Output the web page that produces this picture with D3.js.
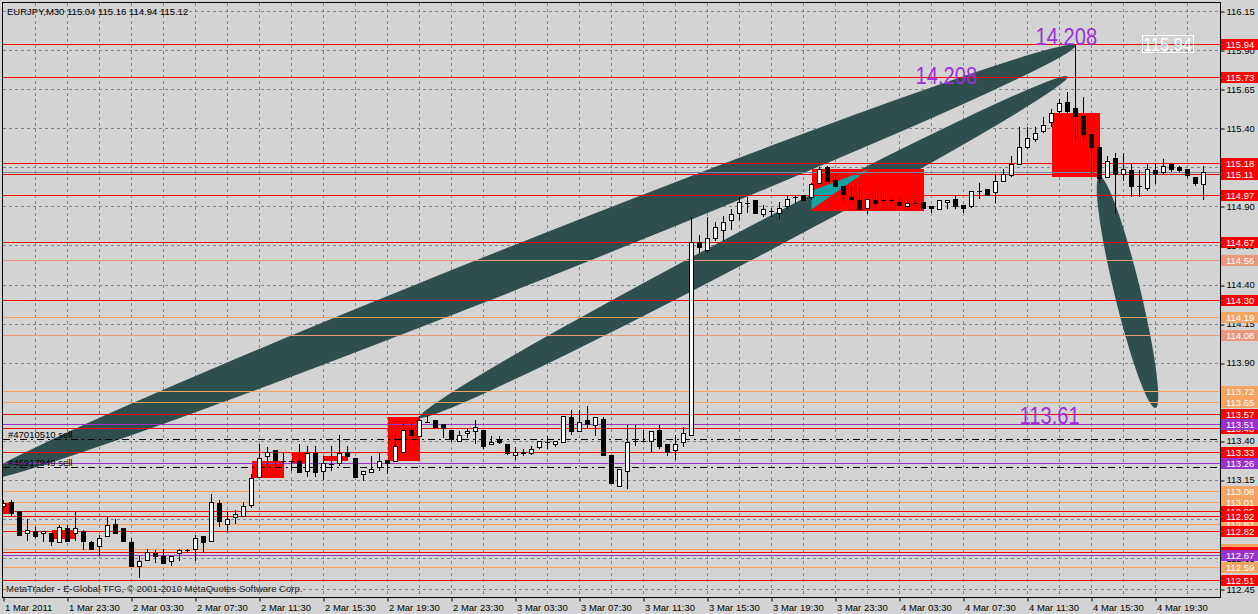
<!DOCTYPE html>
<html><head><meta charset="utf-8">
<script src="https://cdn.jsdelivr.net/npm/d3@7"></script>
<style>
html,body{margin:0;padding:0;background:#d3d3d3;overflow:hidden;}
svg{display:block;}
text{font-family:"Liberation Sans",Arial,sans-serif;}
</style></head><body>
<svg id="chart" width="1258" height="614"></svg>
<script>
// ---------------- DATA ----------------
const titleText = "EURJPY,M30  115.04 115.16 114.94 115.12";
const copyrightText = "MetaTrader - E-Global TFG, \u00A9 2001-2010 MetaQuotes Software Corp.";

const opens = [112.98,113.01,112.95,112.81,112.82,112.81,112.81,112.75,112.84,112.81,
112.82,112.75,112.73,112.79,112.87,112.84,112.75,112.60,112.64,112.68,
112.66,112.63,112.68,112.70,112.71,112.79,112.76,113.00,112.87,112.91,
112.92,112.99,113.17,113.30,113.34,113.27,113.27,113.27,113.21,113.32,
113.21,113.25,113.26,113.33,113.29,113.19,113.20,113.23,113.28,113.27,
113.33,113.47,113.43,113.52,113.53,113.51,113.47,113.40,113.45,113.46,
113.47,113.38,113.41,113.38,113.31,113.32,113.32,113.36,113.39,113.38,
113.39,113.55,113.46,113.53,113.50,113.54,113.31,113.11,113.21,113.40,
113.40,113.40,113.47,113.38,113.34,113.39,113.44,114.67,114.62,114.70,
114.75,114.81,114.86,114.92,114.94,114.85,114.87,114.86,114.90,114.96,
114.97,114.96,115.05,115.15,115.07,115.03,114.96,114.94,114.89,114.94,
114.94,114.94,114.93,114.90,114.92,114.93,114.90,114.88,114.93,114.95,
114.91,114.90,115.00,115.01,114.99,115.06,115.10,115.17,115.28,115.33,
115.38,115.44,115.51,115.57,115.53,115.48,115.36,115.28,115.09,115.21,
115.11,115.13,115.03,115.02,115.13,115.12,115.17,115.15,115.14,115.09,
115.04];
const highs = [113.02,113.02,112.95,112.90,112.85,112.82,112.81,112.86,112.86,112.95,
112.83,112.76,112.80,112.91,112.90,112.84,112.78,112.66,112.71,112.70,
112.71,112.66,112.71,112.71,112.80,112.79,113.06,113.02,112.95,112.96,
113.01,113.19,113.38,113.36,113.34,113.33,113.27,113.38,113.37,113.37,
113.30,113.37,113.44,113.37,113.29,113.21,113.30,113.32,113.28,113.44,
113.51,113.52,113.56,113.56,113.53,113.51,113.47,113.46,113.48,113.53,
113.47,113.43,113.43,113.38,113.36,113.35,113.37,113.40,113.43,113.40,
113.56,113.60,113.60,113.62,113.55,113.55,113.31,113.22,113.50,113.50,
113.47,113.46,113.50,113.38,113.44,113.49,114.83,114.72,114.83,114.80,
114.84,114.88,114.96,114.96,114.94,114.91,114.89,114.93,114.97,114.97,
114.97,115.05,115.15,115.16,115.11,115.03,115.03,115.03,114.95,115.00,
114.99,114.96,114.96,114.95,114.95,114.93,114.90,114.94,114.94,114.97,
114.91,115.00,115.05,115.01,115.10,115.14,115.22,115.41,115.41,115.41,
115.47,115.52,115.59,115.63,115.93,115.60,115.36,115.28,115.22,115.24,
115.24,115.17,115.13,115.17,115.18,115.20,115.17,115.16,115.14,115.09,
115.16];
const lows = [112.97,112.92,112.79,112.76,112.78,112.75,112.73,112.75,112.76,112.76,
112.70,112.71,112.66,112.79,112.81,112.75,112.59,112.52,112.63,112.62,
112.62,112.60,112.63,112.68,112.63,112.68,112.75,112.85,112.81,112.87,
112.91,112.97,113.16,113.22,113.24,113.25,113.21,113.20,113.17,113.17,
113.15,113.21,113.24,113.28,113.17,113.14,113.20,113.21,113.19,113.27,
113.33,113.43,113.43,113.52,113.49,113.42,113.39,113.40,113.42,113.38,
113.35,113.38,113.38,113.31,113.28,113.30,113.31,113.35,113.35,113.36,
113.39,113.44,113.46,113.48,113.43,113.31,113.13,113.11,113.09,113.37,
113.40,113.32,113.35,113.30,113.28,113.36,113.44,114.60,114.60,114.68,
114.68,114.75,114.81,114.86,114.86,114.83,114.83,114.82,114.88,114.92,
114.94,114.94,115.04,115.06,115.03,114.92,114.92,114.88,114.85,114.89,
114.92,114.92,114.90,114.89,114.91,114.88,114.86,114.88,114.88,114.88,
114.86,114.89,114.95,114.97,114.92,115.06,115.09,115.17,115.27,115.31,
115.37,115.41,115.47,115.48,115.31,115.31,115.09,115.05,115.08,114.85,
115.06,114.96,114.96,115.00,115.04,115.10,115.12,115.12,115.08,115.03,
114.94];
const closes = [113.00,112.94,112.80,112.83,112.79,112.82,112.76,112.85,112.76,112.84,
112.76,112.71,112.78,112.86,112.81,112.76,112.60,112.63,112.69,112.66,
112.62,112.66,112.70,112.70,112.78,112.75,113.01,112.89,112.90,112.93,
112.98,113.16,113.29,113.33,113.28,113.27,113.27,113.20,113.32,113.20,
113.26,113.25,113.32,113.30,113.17,113.21,113.22,113.27,113.26,113.37,
113.47,113.44,113.53,113.52,113.49,113.48,113.41,113.44,113.46,113.49,
113.37,113.39,113.39,113.32,113.33,113.33,113.35,113.40,113.39,113.40,
113.56,113.46,113.52,113.51,113.55,113.31,113.13,113.22,113.39,113.40,
113.40,113.46,113.37,113.33,113.38,113.45,114.67,114.64,114.70,114.77,
114.80,114.85,114.93,114.92,114.86,114.88,114.87,114.89,114.95,114.96,
114.94,115.04,115.14,115.06,115.03,114.98,114.95,114.88,114.95,114.92,
114.94,114.94,114.91,114.92,114.92,114.89,114.89,114.94,114.94,114.90,
114.89,115.00,115.00,114.97,115.06,115.11,115.17,115.28,115.34,115.37,
115.42,115.50,115.56,115.51,115.48,115.36,115.28,115.08,115.19,115.11,
115.14,115.03,115.03,115.14,115.11,115.16,115.14,115.13,115.10,115.05,
115.12];

const priceTicks = [116.15,115.90,115.65,115.40,115.15,114.90,114.65,114.40,114.15,113.90,113.65,113.40,113.15,112.90,112.65,112.45];
const timeTickBars = [0,8,16,24,32,40,48,56,64,72,80,88,96,104,112,120,128,136,144];
const timeTickLabels = ["1 Mar 2011","1 Mar 23:30","2 Mar 03:30","2 Mar 07:30","2 Mar 11:30","2 Mar 15:30","2 Mar 19:30","2 Mar 23:30","3 Mar 03:30","3 Mar 07:30","3 Mar 11:30","3 Mar 15:30","3 Mar 19:30","3 Mar 23:30","4 Mar 03:30","4 Mar 07:30","4 Mar 11:30","4 Mar 15:30","4 Mar 19:30"];

const redLevels = [115.94,115.73,115.18,115.11,114.97,114.67,114.30,113.57,113.48,113.33,112.95,112.92,112.82,112.69,112.51];
const sandyLevels = [114.19,113.72,113.65,113.08,113.01,112.87,112.71,112.59];
const salmonLevels = [114.56,114.08];
const purpleLevels = [113.51,113.26,112.67];
const bidPrice = 115.12;
const orderPrices = [113.41,113.23];
const orderLabels = ["#47010510 sell","#46917949 sell"];

const boxStartBar = [-1,6,31,36,40,48,101,131];
const boxEndBar   = [1,9,35,38,43,52,115,137];
const boxHigh = [113.00,112.83,113.27,113.32,113.30,113.55,115.14,115.50];
const boxLow  = [112.93,112.77,113.16,113.26,113.27,113.27,114.87,115.09];

const ellStartBar = [-3,52,137];
const ellStartPrice = [113.15,113.55,115.09];
const ellEndBar = [134,133,144];
const ellEndPrice = [115.93,115.73,113.61];

const wedgeBars = [101,101,108.3];
const wedgePrices = [115.00,114.88,115.14];

const noteTexts = ["14.208","14.208","113.61"];
const noteBars = [129,114,127];
const notePrices = [115.93,115.68,113.51];

const boxedLabel = "115.94";
const boxedLabelBar = 145.5;
const boxedLabelPrice = 115.94;

// ---------------- LAYOUT ----------------
const W = 1258, H = 614;
const plotL = 3, plotR = 1220, plotT = 3, plotB = 597;
const ellRatio = [0.036, 0.042, 0.11];
const BG = "#d3d3d3", SLATE = "#2f4f4f", XTEAL = "#12a3a3";

const svg = d3.select("#chart");
const defs = svg.append("defs");
const x = d3.scaleLinear().domain([0,150]).range([3.5,1203.5]);
const y = d3.scaleLinear().domain([112.45,116.15]).range([589.3,11]);
const cy = p => Math.round(y(p)) + 0.5;

svg.append("rect").attr("width",W).attr("height",H).attr("fill",BG);

defs.append("clipPath").attr("id","plotclip")
  .append("rect").attr("x",plotL).attr("y",plotT).attr("width",plotR-plotL).attr("height",plotB-plotT);

const plot = svg.append("g").attr("clip-path","url(#plotclip)");

// grid
const gridCol = "#778899";
plot.append("g").selectAll("line").data(priceTicks).join("line")
  .attr("x1",plotL).attr("x2",plotR).attr("y1",d=>cy(d)).attr("y2",d=>cy(d))
  .attr("stroke",gridCol).attr("stroke-dasharray","3,3").attr("shape-rendering","crispEdges");
const vBars = d3.range(4,151,4);
plot.append("g").selectAll("line").data(vBars).join("line")
  .attr("x1",d=>x(d)).attr("x2",d=>x(d)).attr("y1",plotT).attr("y2",plotB)
  .attr("stroke",gridCol).attr("stroke-dasharray","3,3").attr("shape-rendering","crispEdges");

// ellipses
const ells = ellStartBar.map((b,i)=>{
  const x1=x(b), y1=y(ellStartPrice[i]), x2=x(ellEndBar[i]), y2=y(ellEndPrice[i]);
  const len=Math.hypot(x2-x1,y2-y1);
  return {cx:(x1+x2)/2, cy:(y1+y2)/2, rx:len/2, ry:len/2*ellRatio[i], ang:Math.atan2(y2-y1,x2-x1)*180/Math.PI};
});
const ellAttrs = sel => sel.attr("cx",d=>d.cx).attr("cy",d=>d.cy).attr("rx",d=>d.rx).attr("ry",d=>d.ry)
   .attr("transform",d=>`rotate(${d.ang},${d.cx},${d.cy})`);
defs.append("clipPath").attr("id","clipE0").selectAll("ellipse").data([ells[0]]).join("ellipse").call(ellAttrs);
plot.append("g").selectAll("ellipse").data(ells).join("ellipse").call(ellAttrs).attr("fill",SLATE);
plot.append("g").attr("clip-path","url(#clipE0)").append("ellipse").datum(ells[1]).call(ellAttrs).attr("fill",BG);

// red rectangles
const boxes = boxStartBar.map((b,i)=>({b0:b,b1:boxEndBar[i],hi:boxHigh[i],lo:boxLow[i]}));
plot.append("g").selectAll("rect").data(boxes).join("rect")
  .attr("x",d=>x(d.b0)).attr("width",d=>x(d.b1)-x(d.b0))
  .attr("y",d=>y(d.hi)).attr("height",d=>y(d.lo)-y(d.hi))
  .attr("fill","#ff0000").attr("shape-rendering","crispEdges");

// teal wedge inside the big box
plot.append("polygon")
  .attr("points", wedgeBars.map((b,i)=>[x(b),y(wedgePrices[i])].join(",")).join(" "))
  .attr("fill",XTEAL);

// horizontal levels
function levels(arr,col){
  plot.append("g").selectAll("line").data(arr).join("line")
   .attr("x1",plotL).attr("x2",plotR).attr("y1",d=>cy(d)).attr("y2",d=>cy(d))
   .attr("stroke",col).attr("shape-rendering","crispEdges");
}
levels(sandyLevels,"#f4a460");
levels(salmonLevels,"#e9967a");
levels(redLevels,"#ff0000");
levels(purpleLevels,"#9932cc");
levels([bidPrice],"#778899");
plot.append("g").selectAll("line").data(orderPrices).join("line")
  .attr("x1",plotL).attr("x2",plotR).attr("y1",d=>cy(d)).attr("y2",d=>cy(d))
  .attr("stroke","#000").attr("stroke-dasharray","7,4,2,4").attr("shape-rendering","crispEdges");
plot.append("g").selectAll("text").data(orderLabels).join("text")
  .attr("x",8).attr("y",(d,i)=>cy(orderPrices[i])-2)
  .attr("font-size","9.5px").attr("fill","#000").text(d=>d);

// candles
const bars = opens.map((o,i)=>({i,o,h:highs[i],l:lows[i],c:closes[i]}));
const cg = plot.append("g").attr("shape-rendering","crispEdges");
cg.selectAll("line.w").data(bars).join("line").attr("class","w")
  .attr("x1",d=>x(d.i)).attr("x2",d=>x(d.i)).attr("y1",d=>y(d.h)).attr("y2",d=>y(d.l))
  .attr("stroke","#000");
cg.selectAll("rect.b").data(bars.filter(d=>Math.abs(d.o-d.c)>0.004)).join("rect").attr("class","b")
  .attr("x",d=>x(d.i)-2).attr("width",4)
  .attr("y",d=>Math.round(y(Math.max(d.o,d.c)))+0.5)
  .attr("height",d=>Math.max(1,Math.round(y(Math.min(d.o,d.c)))-Math.round(y(Math.max(d.o,d.c)))))
  .attr("fill",d=>d.c>d.o?"#fff":"#000").attr("stroke","#000");
cg.selectAll("line.d").data(bars.filter(d=>Math.abs(d.o-d.c)<=0.004)).join("line").attr("class","d")
  .attr("x1",d=>x(d.i)-2.5).attr("x2",d=>x(d.i)+2.5).attr("y1",d=>cy(d.c)).attr("y2",d=>cy(d.c))
  .attr("stroke","#000");

// annotations
plot.append("g").selectAll("text").data(noteTexts).join("text")
  .attr("transform",(d,i)=>`translate(${x(noteBars[i])},${y(notePrices[i])}) scale(0.84,1)`)
  .attr("font-size","24px").attr("fill","#9b30d9").text(d=>d);
const bl = plot.append("g").attr("transform",`translate(${x(boxedLabelBar)},${y(boxedLabelPrice)})`);
bl.append("rect").attr("x",-25.5).attr("y",-8.5).attr("width",51).attr("height",17)
  .attr("fill","none").attr("stroke","#fff").attr("shape-rendering","crispEdges");
bl.append("text").attr("text-anchor","middle").attr("y",7).attr("font-size","19px")
  .attr("transform","scale(0.86,1)").attr("fill","#fff").text(boxedLabel);

// texts
svg.append("text").attr("x",7).attr("y",15).attr("font-size","9.5px").attr("fill","#000").text(titleText);
svg.append("text").attr("x",6).attr("y",592).attr("font-size","9.5px").attr("fill","#222").text(copyrightText);

// frame
svg.append("rect").attr("x",plotL-0.5).attr("y",plotT-0.5).attr("width",plotR-plotL+1).attr("height",plotB-plotT+1)
  .attr("fill","none").attr("stroke","#000").attr("shape-rendering","crispEdges");

// price axis
const yAxis = d3.axisRight(y).tickValues(priceTicks).tickSize(4).tickPadding(2).tickFormat(d3.format(".2f"));
const ya = svg.append("g").attr("transform",`translate(${plotR+0.5},0)`).call(yAxis);
ya.select(".domain").remove();
ya.selectAll("line").attr("stroke","#000").attr("transform",d=>`translate(0,${cy(d)-y(d)})`);
ya.selectAll("text").attr("font-size","9.5px").attr("font-family","Liberation Sans, Arial, sans-serif").attr("fill","#000");

// level labels on price axis
function tags(arr,col){
  const g = svg.append("g").selectAll("g").data(arr).join("g").attr("transform",d=>`translate(${plotR+1},${Math.round(y(d))})`);
  g.append("rect").attr("x",0).attr("y",-5).attr("width",37).attr("height",11).attr("fill",col);
  g.append("text").attr("x",5).attr("y",4).attr("font-size","9.5px").attr("fill","#fff").text(d=>d.toFixed(2));
}
tags(sandyLevels,"#f4a460");
tags(salmonLevels,"#e9967a");
tags(redLevels,"#ff0000");
tags(purpleLevels,"#9932cc");

// time axis
const xAxis = d3.axisBottom(x).tickValues(timeTickBars).tickSize(4).tickPadding(3)
  .tickFormat((d,i)=>timeTickLabels[i]);
const xa = svg.append("g").attr("transform",`translate(0,${plotB+0.5})`).call(xAxis);
xa.select(".domain").remove();
xa.selectAll("line").attr("stroke","#000");
xa.selectAll("text").attr("font-size","9.5px").attr("font-family","Liberation Sans, Arial, sans-serif")
  .attr("text-anchor","start").attr("dx","1").attr("fill","#000");
</script>
</body></html>
